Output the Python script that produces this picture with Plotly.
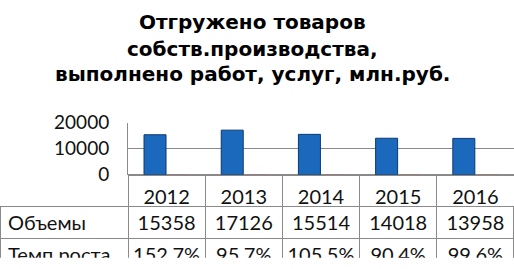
import plotly.graph_objects as go

years = ["2012", "2013", "2014", "2015", "2016"]
volumes = [15358, 17126, 15514, 14018, 13958]
growth_pct = [152.7, 95.7, 105.5, 90.4, 99.6]
row_labels = ["Объемы", "Темп роста"]
title_lines = ["Отгружено товаров", "собств.производства,", "выполнено работ, услуг, млн.руб."]
y_ticks = [0, 10000, 20000]

W, H = 514, 269
GRID = "#8a8a8a"
RED = "#c0504d"
CLEAR = "rgba(255,255,255,0)"
TFONT = dict(family="Lato", size=20, color="#111111")
HEAD_H = 32

growth_txt = [f"{v:.1f}%".replace(".", ",") for v in growth_pct]
growth_val = [v / 100 for v in growth_pct]

fig = go.Figure()
fig.add_trace(go.Bar(
    x=years, y=volumes, name="Объемы",
    marker=dict(color="#1b69bd", line=dict(color="#0b3a70", width=1)),
))
# no outline: plotly then expands sub-pixel bars to one visible pixel
fig.add_trace(go.Bar(
    x=years, y=growth_val, name="Темп роста",
    marker=dict(color=RED, line=dict(width=0)),
))

col_w = [128] + [(W - 128) / len(years)] * len(years)
fig.add_trace(go.Table(
    domain=dict(x=[0, 1], y=[0, (H - 178) / H]),
    columnwidth=col_w,
    header=dict(
        values=[""] * (len(years) + 1),
        height=HEAD_H,
        font=TFONT,
        fill=dict(color=CLEAR),
        line=dict(color=CLEAR, width=1),
    ),
    cells=dict(
        values=[row_labels] + [[str(v), g] for v, g in zip(volumes, growth_txt)],
        height=32,
        align=["left"] + ["center"] * len(years),
        font=TFONT,
        fill=dict(color="white"),
        line=dict(color=GRID, width=1),
    ),
))

title_y = [11, 40, 68]
for line, py in zip(title_lines, title_y):
    fig.add_annotation(
        text=line, x=0.492, xref="paper", xanchor="center",
        y=1 - py / H, yref="paper", yanchor="middle", showarrow=False,
        font=dict(family="DejaVu Sans", size=20, color="black", weight="bold"),
    )

fig.update_layout(
    width=W, height=H,
    margin=dict(l=0, r=0, t=0, b=0),
    paper_bgcolor="white", plot_bgcolor="white",
    showlegend=False,
    barmode="group", bargap=0.4, bargroupgap=0.05,
    xaxis=dict(
        domain=[128 / W, 1], showticklabels=True, showgrid=False,
        showline=False, zeroline=False,
        ticks="outside", tickson="boundaries", ticklen=HEAD_H,
        tickcolor=GRID, tickwidth=1,
        ticklabelstandoff=8, tickfont=TFONT,
    ),
    yaxis=dict(
        domain=[(H - 178) / H, (H - 121) / H], range=[0, 20000],
        tickvals=y_ticks, tickformat="d", showgrid=True, gridcolor=GRID, gridwidth=1,
        zeroline=True, zerolinecolor=GRID, showline=True, linecolor=GRID,
        ticks="", ticklabelstandoff=14,
        tickfont=dict(family="Lato", size=19, color="#111111"),
    ),
)

fig.write_html("out.html")
